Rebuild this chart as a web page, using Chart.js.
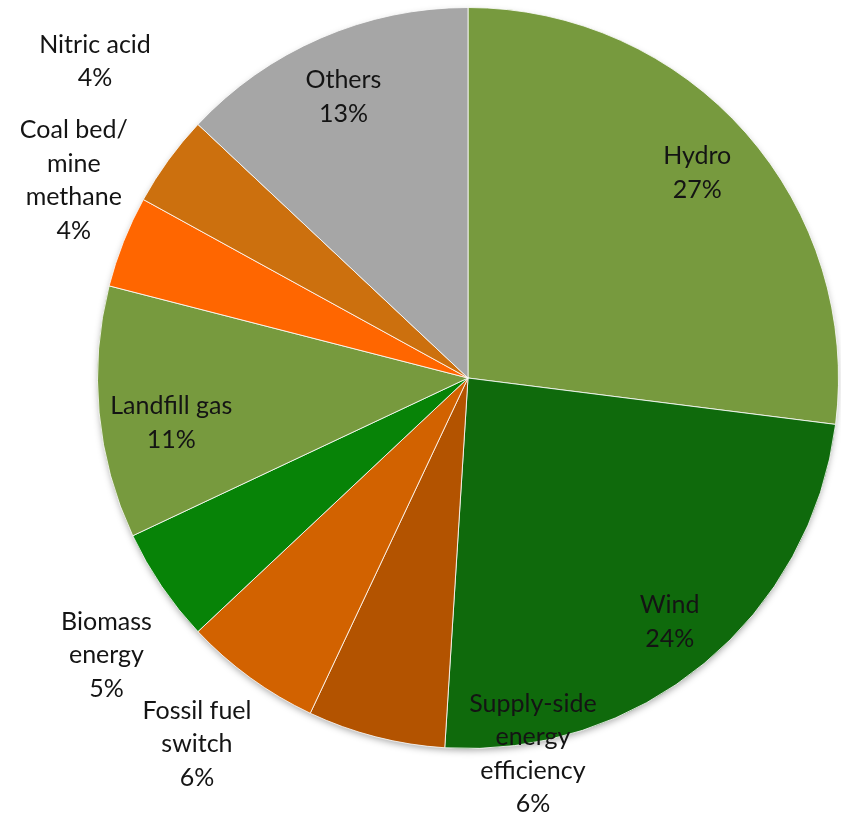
<!DOCTYPE html>
<html>
<head>
<meta charset="utf-8">
<script src="https://cdn.jsdelivr.net/npm/chart.js@4/dist/chart.umd.min.js"></script>
<style>
    html, body { margin: 0; padding: 0; background: #fff; }
    #wrap { width: 841px; height: 817px; }
</style>
</head>
<body>
<div id="wrap"><canvas id="projectChart" width="841" height="817"></canvas></div>
<script>
const categories = ['Hydro', 'Wind', 'Supply-side energy efficiency', 'Fossil fuel switch',
    'Biomass energy', 'Landfill gas', 'Coal bed/ mine methane', 'Nitric acid', 'Others'];
const shares = [27, 24, 6, 6, 5, 11, 4, 4, 13];
const sliceColors = ['#779a3e', '#0f6a0c', '#b35300', '#d26200', '#078307',
    '#779a3e', '#ff6600', '#cc700e', '#a6a6a6'];
// text lines of each label (the name is wrapped by hand)
const labelLines = [
    ['Hydro'], ['Wind'], ['Supply-side', 'energy', 'efficiency'], ['Fossil fuel', 'switch'],
    ['Biomass', 'energy'], ['Landfill gas'], ['Coal bed/', 'mine', 'methane'], ['Nitric acid'], ['Others']
];
// where to put each label: turn from mid angle (deg) and distance as a part of the radius
const labelTurn = [-0.4, 0, -24.2, 0.5, -3.3, -3.2, 5, 4.3, -0.5];
const labelDist = [0.83, 0.854, 1.03, 1.23, 1.23, 0.81, 1.19, 1.32, 0.83];

const pieShadow = {
    id: 'pieShadow',
    beforeDatasetsDraw(chart) {
        const arc = chart.getDatasetMeta(0).data[0];
        if (!arc) return;
        const ctx = chart.ctx;
        ctx.save();
        ctx.shadowColor = 'rgba(0,0,0,0.35)';
        ctx.shadowBlur = 7;
        ctx.shadowOffsetY = 3;
        ctx.fillStyle = '#fff';
        ctx.beginPath();
        ctx.arc(arc.x, arc.y, arc.outerRadius - 1, 0, Math.PI * 2);
        ctx.fill();
        ctx.restore();
    }
};

const sliceLabels = {
    id: 'sliceLabels',
    afterDatasetsDraw(chart) {
        const ctx = chart.ctx;
        const lineH = 33.5;
        ctx.save();
        ctx.font = '25px Lato, "Open Sans", sans-serif';
        ctx.fillStyle = '#141414';
        ctx.textAlign = 'center';
        ctx.textBaseline = 'middle';
        chart.getDatasetMeta(0).data.forEach((arc, i) => {
            const mid = (arc.startAngle + arc.endAngle) / 2 + labelTurn[i] * Math.PI / 180;
            const r = arc.outerRadius * labelDist[i];
            const x = arc.x + Math.cos(mid) * r;
            const y = arc.y + Math.sin(mid) * r;
            const lines = labelLines[i].concat([shares[i] + '%']);
            const top = y - (lines.length - 1) * lineH / 2;
            lines.forEach((t, k) => ctx.fillText(t, x, top + k * lineH));
        });
        ctx.restore();
    }
};

new Chart(document.getElementById('projectChart'), {
    type: 'pie',
    data: {
        labels: categories,
        datasets: [{
            data: shares,
            backgroundColor: sliceColors,
            borderColor: 'rgba(255,255,255,0.8)',
            borderWidth: 1
        }]
    },
    options: {
        responsive: false,
        animation: false,
        layout: { padding: { top: 7, bottom: 68, left: 95, right: 0 } },
        plugins: {
            legend: { display: false },
            tooltip: { enabled: false }
        }
    },
    plugins: [pieShadow, sliceLabels]
});
</script>
</body>
</html>
